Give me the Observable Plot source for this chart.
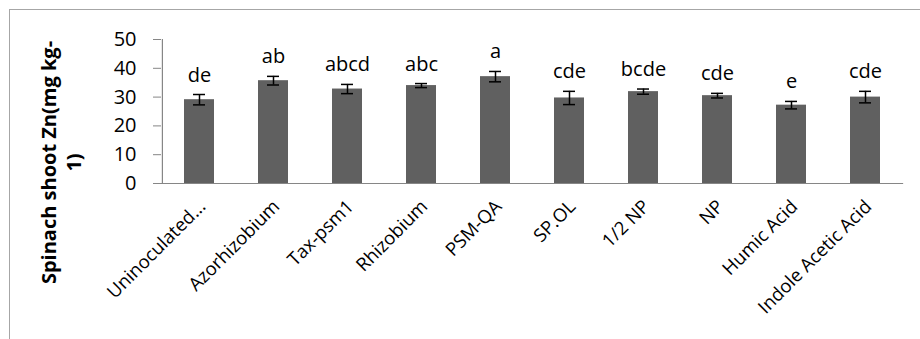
<!DOCTYPE html>
<html>
<head>
<meta charset="utf-8">
<script src="https://cdn.jsdelivr.net/npm/d3@7"></script>
<script src="https://cdn.jsdelivr.net/npm/@observablehq/plot@0.6"></script>
<style>
  html, body { margin: 0; padding: 0; background: #fff; }
  #wrap { position: relative; width: 920px; height: 339px; overflow: hidden; }
  #border { position: absolute; left: 9px; top: 9px; width: 920px; height: 340px;
            border-left: 1.5px solid #a6a6a6; border-top: 1.5px solid #a6a6a6; pointer-events: none; }
  #wrap svg { position: absolute; left: 0; top: 0; }
</style>
</head>
<body>
<div id="wrap"><div id="border"></div></div>
<script>
const categories = ["Uninoculated...", "Azorhizobium", "Tax-psm1", "Rhizobium", "PSM-QA", "SP.OL", "1/2 NP", "NP", "Humic Acid", "Indole Acetic Acid"];
const values = [29.1, 35.7, 32.8, 34.0, 37.1, 29.7, 31.9, 30.5, 27.2, 30.0];
const errors = [1.8, 1.5, 1.6, 0.7, 1.8, 2.3, 0.9, 0.8, 1.3, 2.0];
const letters = ["de", "ab", "abcd", "abc", "a", "cde", "bcde", "cde", "e", "cde"];
const yTicks = [0, 10, 20, 30, 40, 50];
const yLabel = "Spinach shoot Zn(mg kg-\n1)";

const data = categories.map((c, i) => ({cat: c, v: values[i], e: errors[i], lab: letters[i]}));

const W = 920, H = 339, mL = 161, mR = 17, mT = 39, mB = 156;
const step = (W - mL - mR) / categories.length;
const axisColor = "#868686";

const chart = Plot.plot({
  width: W, height: H,
  marginLeft: mL, marginRight: mR, marginTop: mT, marginBottom: mB,
  style: {fontFamily: "Open Sans", fontSize: "20px", background: "transparent", overflow: "visible"},
  x: {domain: categories, paddingInner: 0.6, paddingOuter: 0.3, axis: null},
  y: {domain: [0, 50], axis: null},
  marks: [
    Plot.barY(data, {x: "cat", y: "v", fill: "#606060"}),
    // error bars
    Plot.ruleX(data, {x: "cat", y1: d => d.v - d.e, y2: d => d.v + d.e, stroke: "black", strokeWidth: 1.5}),
    Plot.tickY(data, {x: "cat", y: d => d.v - d.e, stroke: "black", strokeWidth: 1.5, insetLeft: 9, insetRight: 9}),
    Plot.tickY(data, {x: "cat", y: d => d.v + d.e, stroke: "black", strokeWidth: 1.5, insetLeft: 9, insetRight: 9}),
    // significance letters
    Plot.text(data, {x: "cat", y: d => d.v + d.e, text: "lab", dy: -13, lineAnchor: "bottom", fontSize: 20, fill: "black"}),
    // x axis line and boundary ticks
    Plot.ruleY([0], {stroke: axisColor, strokeWidth: 1.2}),
    Plot.ruleX(categories, {x: d => d, y1: 0, y2: -0.24, dx: -step / 2, stroke: axisColor, strokeWidth: 1.2}),
    Plot.ruleX(categories.slice(-1), {x: d => d, y1: 0, y2: -0.24, dx: step / 2, stroke: axisColor, strokeWidth: 1.2}),
    // y axis line
    Plot.ruleX(categories.slice(0, 1), {x: d => d, y1: 0, y2: 50, dx: -step / 2, stroke: axisColor, strokeWidth: 1.2}),
    Plot.axisY({ticks: yTicks, tickSize: 8, tickPadding: 17, fontSize: 20, stroke: axisColor, fill: "black", label: null}),
    // category labels
    Plot.text(categories, {x: d => d, text: d => d, frameAnchor: "bottom", dx: 3, dy: 20, rotate: -45,
      textAnchor: "end", lineAnchor: "middle", fontSize: 18.5, fill: "black"}),
    // y axis title
    Plot.text([yLabel], {text: d => d, frameAnchor: "left", rotate: -90, dx: -101.5, dy: 51,
      fontWeight: "bold", fontSize: 20, lineHeight: 1.25, textAnchor: "middle", lineAnchor: "middle", fill: "black"})
  ]
});
document.getElementById("wrap").insertBefore(chart, document.getElementById("border"));
</script>
</body>
</html>
